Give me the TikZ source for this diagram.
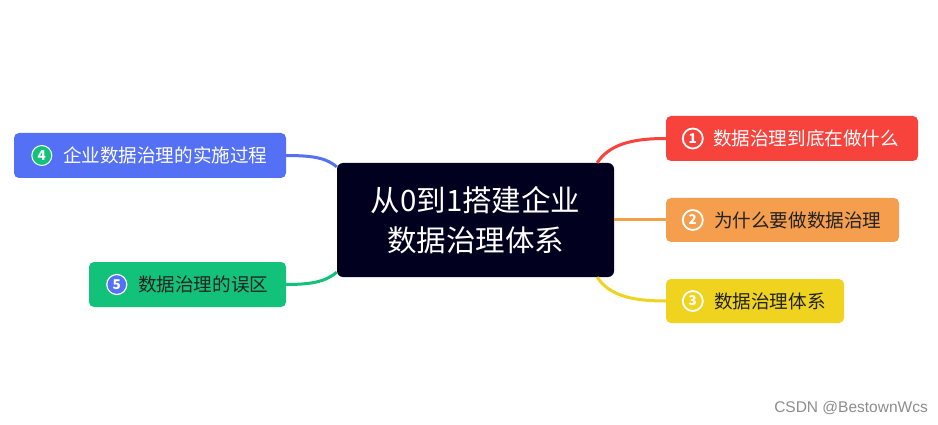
\documentclass[tikz,border=0pt]{standalone}
\usepackage{fontspec}
\setmainfont{Noto Sans CJK SC}
\newfontfamily\wmfont{Liberation Sans}
\definecolor{cred}{HTML}{F8433C}
\definecolor{corange}{HTML}{F59E4E}
\definecolor{cyellow}{HTML}{F0D31E}
\definecolor{cblue}{HTML}{5470F5}
\definecolor{cgreen}{HTML}{12C27A}
\definecolor{ccentral}{HTML}{01011F}
\definecolor{cdark}{HTML}{222222}
\begin{document}
\begin{tikzpicture}[x=1pt,y=-1pt,
  topic/.style={rounded corners=5pt, minimum height=45pt, inner sep=0pt, draw=none},
  ttext/.style={anchor=west, inner sep=0pt, font=\fontsize{18.6}{22}\selectfont},
  num/.style={circle, minimum size=20pt, inner sep=0pt, line width=1.8pt, font=\fontsize{13.5}{14}\selectfont\bfseries, text=white},
  conn/.style={line width=3pt}
]
\useasboundingbox (0,0) rectangle (938,425);
% central
\node[fill=ccentral, rounded corners=6pt, minimum width=277pt, minimum height=114pt, inner sep=0pt,
  text=white, align=center, font=\fontsize{29.5}{40}\selectfont] (c) at (475.5,220) {从0到1搭建企业\\数据治理体系};
% topics
\node[topic, fill=cred, minimum width=252pt] (n1) at (792,138.5) {};
\node[topic, fill=corange, minimum width=233pt, minimum height=44pt] (n2) at (782.5,220) {};
\node[topic, fill=cyellow, minimum width=178pt, minimum height=44pt] (n3) at (755,301) {};
\node[topic, fill=cblue, minimum width=272pt] (n4) at (150,155.5) {};
\node[topic, fill=cgreen, minimum width=197pt] (n5) at (187.5,284.5) {};
% numbers
\node[num, draw=white] (k1) at ([xshift=27pt]n1.west) {1};
\node[num, draw=white] (k2) at ([xshift=27pt]n2.west) {2};
\node[num, draw=white] (k3) at ([xshift=27pt]n3.west) {3};
\node[num, fill=cgreen, draw=white, line width=1pt] (k4) at ([xshift=28pt]n4.west) {4};
\node[num, fill=cblue, draw=white, line width=1.2pt] (k5) at ([xshift=28pt]n5.west) {5};
% texts
\node[ttext, text=white] (t1) at ([xshift=47pt]n1.west) {数据治理到底在做什么};
\node[ttext, text=cdark] (t2) at ([xshift=48pt]n2.west) {为什么要做数据治理};
\node[ttext, text=cdark] (t3) at ([xshift=48pt]n3.west) {数据治理体系};
\node[ttext, text=white] (t4) at ([xshift=49pt]n4.west) {企业数据治理的实施过程};
\node[ttext, text=cdark] (t5) at ([xshift=49pt]n5.west) {数据治理的误区};
% connectors
\draw[conn, cred] ([xshift=-17pt]c.north east) .. controls +(12,-18) and +(-35,0) .. (n1.west);
\draw[conn, corange] (c.east) -- (n2.west);
\draw[conn, cyellow] ([xshift=-17pt]c.south east) .. controls +(12,18) and +(-35,0) .. (n3.west);
\draw[conn, cblue] (n4.east) .. controls +(30,0) and +(-10,-8) .. ([yshift=-4pt]c.north west);
\draw[conn, cgreen] (n5.east) .. controls +(30,0) and +(-10,8) .. ([yshift=5pt]c.south west);
% watermark
\node[anchor=east, inner sep=0pt, text=black!45, font=\wmfont\fontsize{15.5}{17}\selectfont] (wm) at (928,408) {CSDN @BestownWcs};
\end{tikzpicture}
\end{document}
